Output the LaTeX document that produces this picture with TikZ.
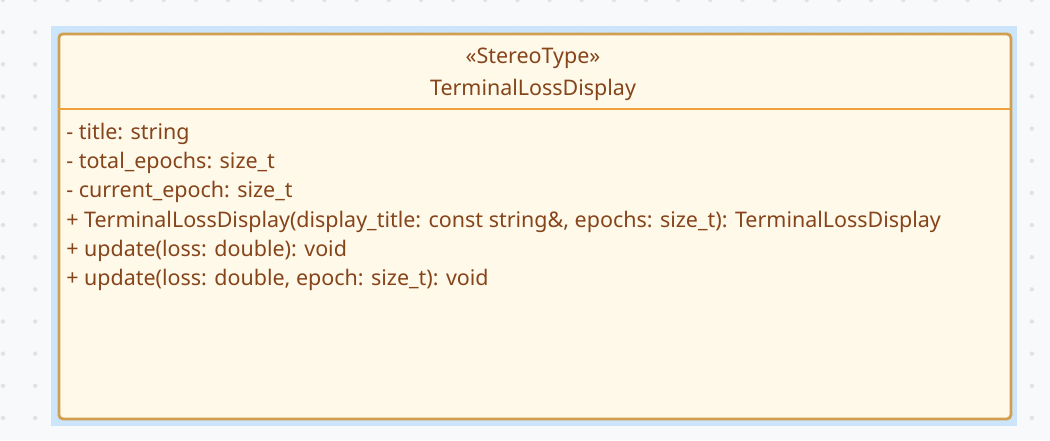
\documentclass[tikz,border=0pt]{standalone}
\usepackage{fontspec}
\setmainfont{Noto Sans}
\definecolor{bgc}{HTML}{F8F9FB}
\definecolor{dotc}{HTML}{E0E2E6}
\definecolor{selc}{HTML}{C9E3FA}
\definecolor{boxfill}{HTML}{FFF9EA}
\definecolor{boxline}{HTML}{D0A050}
\definecolor{divline}{HTML}{EFA23A}
\definecolor{txt}{HTML}{86441A}
\tikzset{
  member/.style={anchor=base west, inner sep=0pt, text=txt, font=\fontsize{16.1pt}{19pt}\selectfont},
  header/.style={anchor=base, inner sep=0pt, text=txt, font=\fontsize{16.1pt}{19pt}\selectfont},
}
\begin{document}
\begin{tikzpicture}[x=0.75pt,y=-0.75pt]
\fill[bgc] (0,0) rectangle (1050,440);
\useasboundingbox (0,0) rectangle (1050,440);
\foreach \i in {0,...,33}{
  \foreach \j in {0,...,14}{
    \fill[dotc] ({3+32.15*\i},{0+32.15*\j}) circle (2.2);
  }
}
\fill[selc,opacity=0.9] (50.5,25.5) rectangle (1017,425.5);
\node[draw=boxline, line width=2.8pt*0.75, fill=boxfill, rounded corners=3pt, minimum width=952*0.75pt, minimum height=385*0.75pt, inner sep=0pt, anchor=north west] (cls) at (57.5,32.5) {};
\coordinate (dl) at (57.5,109);
\coordinate (dr) at (1009.5,109);
\draw[divline, line width=2.6pt*0.75] (dl) -- (dr);
\node[header] (st) at (533,63) {«StereoType»};
\node[header] (nm) at (533,95) {TerminalLossDisplay};
\node[member] (a1) at (66,139) {- title: string};
\node[member] (a2) at (66,168) {- total\_epochs: size\_t};
\node[member] (a3) at (66,197) {- current\_epoch: size\_t};
\node[member] (m1) at (66,227) {+ TerminalLossDisplay(display\_title: const string\&, epochs: size\_t): TerminalLossDisplay};
\node[member] (m2) at (66,256) {+ update(loss: double): void};
\node[member] (m3) at (66,285) {+ update(loss: double, epoch: size\_t): void};
\end{tikzpicture}
\end{document}
